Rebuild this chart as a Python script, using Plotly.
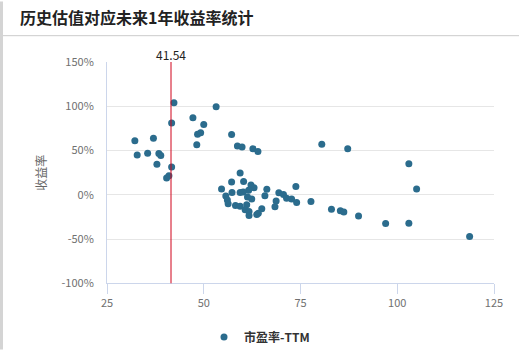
import plotly.graph_objects as go

# ---- data ----
pe_ttm = [32.2, 32.8, 35.5, 37.0, 37.9, 38.4, 38.9, 40.4, 41.0, 41.7, 41.7, 42.3,
          47.2, 48.2, 48.4, 49.2, 50.0, 53.2, 57.2, 58.7, 59.9, 62.7, 64.0,
          59.4, 57.2, 60.3, 62.2, 63.0, 61.6, 54.6, 57.3, 59.4, 60.2, 55.7, 56.1,
          56.3, 61.3, 62.4, 58.2, 59.4, 61.1, 60.7, 61.7, 61.7, 63.7, 64.1, 65.0,
          66.3, 65.8, 68.7, 68.4, 69.4, 70.6, 71.4, 72.7, 73.8, 74.0, 77.7,
          80.5, 87.2, 103.0, 105.0, 83.0, 85.3, 86.2, 90.0, 97.0, 103.0, 118.7]
returns_pct = [61, 45, 47, 64, 34.5, 46.5, 44.5, 19, 21.5, 31.5, 81, 104,
               87, 56.5, 68.5, 70, 79.5, 99.5, 68, 55, 54, 52, 49,
               24.5, 14.3, 15, 11, 8, 5, 6.5, 2.6, 2.6, 3, -1.5, -5.8,
               -10, -2.5, -4.7, -12, -13, -11.4, -17, -19, -23.5, -22.4, -21, -15.8,
               6.2, -1, -7, -13.6, 2.4, 0.3, -4, -4.8, 9.3, -8.6, -7.7,
               57, 52, 35, 6.5, -16.3, -18, -19.4, -24, -32.5, -32.3, -47]
current_pe = 41.54
series_name = "市盈率-TTM"
title_text = "历史估值对应未来1年收益率统计"
y_title = "收益率"
x_ticks = [25, 50, 75, 100, 125]
y_ticks = [-100, -50, 0, 50, 100, 150]
y_ticktext = ["-100%", "-50%", "0%", "50%", "100%", "150%"]

W, H = 519, 357
L, R, T, B = 107, 25, 62, 68
pw, ph = W - L - R, H - T - B

def px_x(p):
    return (p - L) / pw

def px_y(p):
    return (H - B - p) / ph

font_main = "Noto Sans CJK SC, Open Sans, sans-serif"

fig = go.Figure()
fig.add_trace(go.Scatter(
    x=pe_ttm, y=returns_pct, mode="markers", name=series_name,
    marker=dict(size=7, color="#2b6c8d", line=dict(width=0)),
    showlegend=True,
))

fig.update_layout(
    width=W, height=H,
    margin=dict(l=L, r=R, t=T, b=B),
    paper_bgcolor="white", plot_bgcolor="white",
    font=dict(family=font_main, color="#666666", size=11),
    title=dict(text="<b>" + title_text + "</b>", x=20 / W, xanchor="left",
               xref="container", y=1 - 18 / H, yanchor="middle", yref="container",
               font=dict(size=16, color="#222222", family=font_main)),
    xaxis=dict(range=[25, 125], tickvals=x_ticks, showgrid=False, zeroline=False,
               showline=True, linecolor="#ccd6eb", linewidth=1,
               ticks="outside", ticklen=10, tickcolor="#ccd6eb",
               tickfont=dict(size=11, color="#707070")),
    yaxis=dict(range=[-100, 150], tickvals=y_ticks, ticktext=y_ticktext,
               showgrid=True, gridcolor="#e6e6e6", zeroline=False,
               showline=True, linecolor="#ccd6eb", linewidth=1,
               ticks="", ticklabelstandoff=10,
               tickfont=dict(size=11, color="#707070"),
               title=dict(text=y_title, font=dict(size=12, color="#666666"), standoff=12)),
    legend=dict(orientation="h", x=(224 - 20) / W, xref="container", xanchor="left",
                y=1 - 337 / H, yref="container", yanchor="middle",
                font=dict(size=12, color="#333333", family=font_main, weight="bold")),
    showlegend=True,
)

# current valuation line and label
fig.add_shape(type="line", x0=current_pe, x1=current_pe, xref="x", y0=0, y1=1, yref="paper",
              line=dict(color="#d0021b", width=1))
fig.add_annotation(x=current_pe, xref="x", y=1, yref="paper", text=f"{current_pe:.2f}",
                   showarrow=False, yanchor="bottom", yshift=-3,
                   font=dict(size=12, color="#222222", family=font_main))

# header divider and left border
fig.add_shape(type="line", xref="paper", yref="paper", x0=px_x(3), x1=px_x(W), y0=px_y(35), y1=px_y(35),
              line=dict(color="#cccccc", width=1))
fig.add_shape(type="rect", xref="paper", yref="paper", x0=px_x(0), x1=px_x(3), y0=px_y(H), y1=px_y(0),
              line=dict(width=0), fillcolor="#d4d4d4", layer="above")

fig.write_html("out.html")
